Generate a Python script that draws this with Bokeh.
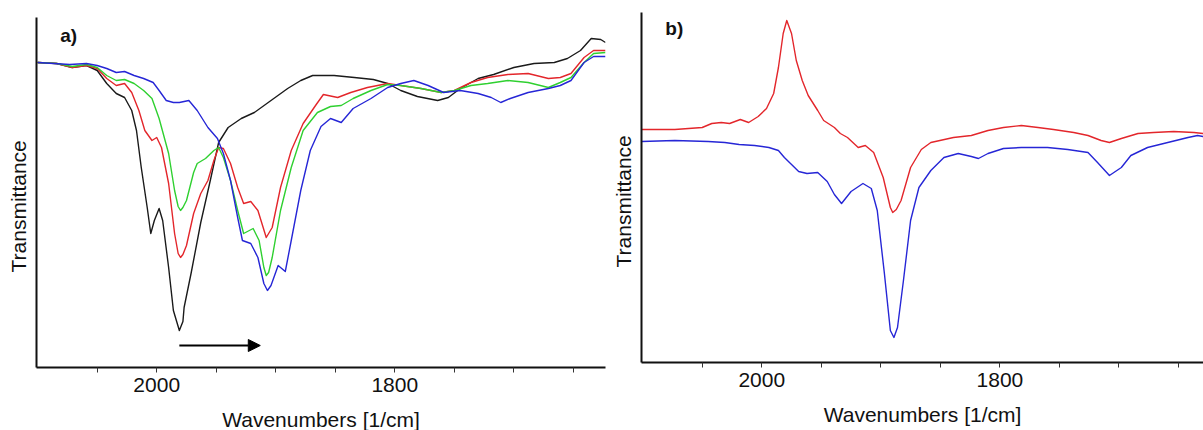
import math
from bokeh.plotting import figure
from bokeh.layouts import row
from bokeh.models import Range1d, FixedTicker, Label, Arrow, NormalHead, Title, LinearAxis
from bokeh.embed import file_html
from bokeh.resources import INLINE

FONT = "Liberation Sans"

# ---- panel a): IR spectra, wavenumber [1/cm] vs transmittance (arb. units)
a_black_wn = [2100, 2084, 2071, 2059, 2050, 2042, 2034, 2027, 2021, 2017, 2013, 2008, 2005, 2002, 1998,
              1995, 1990, 1986, 1983, 1981, 1978, 1977, 1971, 1963, 1955, 1948, 1940, 1929, 1918, 1904,
              1890, 1879, 1869, 1851, 1834, 1818, 1806, 1795, 1781, 1764, 1755, 1745, 1730, 1717, 1700,
              1683, 1666, 1655, 1644, 1635, 1627, 1623]
a_black_t = [305, 304, 300, 302, 297, 284, 274, 270, 257, 237, 200, 160, 134, 147, 159,
             147, 100, 57, 45, 37, 46, 60, 95, 145, 187, 225, 240, 249, 255, 267,
             279, 287, 292, 292, 290, 288, 284, 277, 271, 267, 270, 279, 289, 293, 300,
             304, 305, 309, 317, 329, 328, 325]

a_red_wn = [2100, 2084, 2071, 2059, 2050, 2042, 2034, 2027, 2021, 2015, 2010, 2004, 2000, 1996, 1990,
            1985, 1982, 1980, 1978, 1975, 1969, 1963, 1957, 1952, 1948, 1944, 1938, 1932, 1927, 1921,
            1915, 1908, 1903, 1896, 1887, 1877, 1866, 1860, 1848, 1837, 1823, 1806, 1795, 1778, 1761,
            1750, 1736, 1722, 1705, 1688, 1671, 1661, 1652, 1641, 1633, 1623]
a_red_t = [305, 304, 300, 302, 299, 289, 282, 284, 275, 257, 237, 227, 230, 220, 184,
           134, 114, 110, 113, 122, 154, 174, 187, 207, 220, 219, 204, 180, 164, 166,
           157, 130, 140, 180, 217, 244, 263, 273, 270, 275, 280, 284, 282, 279, 275,
           277, 285, 290, 293, 294, 289, 290, 294, 310, 317, 317]

a_green_wn = [2100, 2084, 2071, 2059, 2050, 2042, 2034, 2027, 2019, 2011, 2004, 1998, 1990, 1985, 1982,
              1980, 1978, 1975, 1969, 1966, 1959, 1952, 1948, 1944, 1938, 1932, 1927, 1919, 1914, 1910,
              1908, 1906, 1903, 1896, 1887, 1877, 1865, 1854, 1845, 1835, 1820, 1806, 1795, 1778, 1761,
              1750, 1736, 1722, 1705, 1688, 1671, 1661, 1652, 1641, 1633, 1623]
a_green_t = [305, 304, 301, 303, 300, 292, 287, 288, 284, 277, 269, 249, 214, 177, 161,
             157, 160, 167, 195, 204, 209, 217, 220, 210, 187, 157, 134, 139, 127, 100,
             92, 95, 110, 157, 200, 237, 255, 261, 262, 269, 277, 283, 282, 279, 275,
             277, 282, 284, 287, 285, 280, 285, 290, 305, 314, 315]

a_blue_wn = [2100, 2073, 2059, 2050, 2042, 2034, 2027, 2019, 2011, 2003, 1998, 1992, 1986, 1981, 1973,
             1966, 1957, 1949, 1944, 1938, 1932, 1928, 1921, 1915, 1910, 1907, 1904, 1898, 1892, 1887,
             1879, 1871, 1862, 1854, 1845, 1835, 1820, 1806, 1795, 1784, 1772, 1759, 1745, 1730, 1719,
             1711, 1703, 1688, 1671, 1661, 1652, 1641, 1633, 1623]
a_blue_t = [305, 303, 304, 302, 299, 295, 296, 292, 289, 285, 277, 267, 265, 265, 267,
            257, 240, 229, 214, 187, 150, 127, 124, 110, 84, 77, 82, 102, 96, 127,
            177, 217, 241, 249, 245, 259, 269, 280, 284, 287, 282, 275, 277, 274, 270,
            265, 269, 275, 279, 282, 287, 305, 311, 311]

# ---- panel b)
b_red_wn = [2101, 2073, 2050, 2042, 2034, 2027, 2018, 2011, 2003, 1996, 1990, 1986, 1982, 1979, 1975,
            1971, 1966, 1961, 1953, 1948, 1939, 1934, 1928, 1919, 1913, 1906, 1898, 1892, 1890, 1887,
            1883, 1875, 1866, 1858, 1839, 1824, 1810, 1797, 1782, 1768, 1755, 1738, 1726, 1715, 1708,
            1698, 1684, 1671, 1654, 1637, 1629]
b_red_t = [233, 233, 235, 239, 240, 239, 243, 240, 246, 254, 269, 295, 329, 342, 329,
           302, 282, 267, 252, 242, 235, 229, 225, 215, 217, 210, 185, 155, 150, 153,
           162, 195, 213, 220, 225, 227, 232, 235, 237, 235, 233, 230, 227, 222, 220,
           224, 229, 230, 231, 230, 229]

b_blue_wn = [2101, 2073, 2045, 2031, 2019, 2006, 1994, 1986, 1981, 1975, 1969, 1962, 1953, 1945, 1939,
             1933, 1925, 1915, 1908, 1903, 1897, 1892, 1889, 1886, 1881, 1875, 1868, 1858, 1847, 1835,
             1824, 1818, 1810, 1797, 1782, 1760, 1743, 1726, 1718, 1708, 1698, 1690, 1676, 1659, 1642,
             1634, 1629]
b_blue_t = [221, 222, 221, 220, 218, 217, 215, 212, 205, 198, 191, 189, 190, 181, 168,
            159, 171, 179, 174, 152, 89, 32, 25, 35, 82, 142, 175, 192, 205, 209,
            206, 204, 209, 214, 215, 215, 213, 210, 200, 187, 195, 207, 215, 220, 225,
            227, 226]

tick_values = [2050, 2000, 1950, 1900, 1850, 1800, 1750, 1700, 1650]
tick_labels = {2000: "2000", 1800: "1800"}

BLACK = "#1a1a1a"
RED = "#e3262b"
GREEN = "#2fd030"
BLUE = "#2626d6"


def make_panel(width, x_end, left, right, top, bottom, tag, tag_y, xlab_offset, ylab_offset):
    p = figure(width=width, height=430, output_backend="svg", toolbar_location=None,
               x_range=Range1d(2101, x_end), y_range=Range1d(0, 350),
               min_border_left=left, min_border_right=right,
               min_border_top=top, min_border_bottom=bottom, frame_align=False)
    p.outline_line_color = None
    p.grid.visible = False
    p.background_fill_color = "white"
    p.border_fill_color = "white"

    xa = p.xaxis[0]
    xa.ticker = FixedTicker(ticks=tick_values)
    xa.major_label_overrides = {t: tick_labels.get(t, "") for t in tick_values}
    xa.minor_tick_line_color = None
    xa.major_tick_in = 0
    xa.major_tick_out = 5
    xa.major_tick_line_width = 1
    xa.major_tick_line_color = "#333333"
    xa.axis_line_width = 2
    xa.axis_line_color = "#111111"
    xa.major_label_standoff = 5
    xa.major_label_text_font = FONT
    xa.major_label_text_font_size = "21px"
    xa.major_label_text_color = "#111111"

    # y axis: plain black line; its single white tick, kept clear of the line,
    # only widens the gap to the title
    ya = p.yaxis[0]
    ya.ticker = FixedTicker(ticks=[175])
    ya.major_label_overrides = {175: ""}
    ya.major_label_text_font_size = "0px"
    ya.major_label_standoff = 0
    ya.minor_tick_line_color = None
    ya.minor_tick_out = 0
    ya.major_tick_in = -4
    ya.major_tick_out = 7
    ya.major_tick_line_color = "white"
    ya.axis_line_width = 2
    ya.axis_line_color = "#111111"

    # blank strip between the tick labels and the axis title
    gap = LinearAxis(ticker=FixedTicker(ticks=[2090]), major_label_overrides={2090: ""},
                     axis_line_color=None, major_tick_line_color="white",
                     minor_tick_line_color=None, major_tick_in=0, major_tick_out=11,
                     minor_tick_out=0, major_label_text_font_size="0px", major_label_standoff=0)
    p.add_layout(gap, "below")

    p.add_layout(Title(text="Transmittance", align="left", offset=ylab_offset, standoff=0,
                       text_font=FONT, text_font_size="21px", text_font_style="normal",
                       text_color="#111111"), "left")
    p.add_layout(Title(text="Wavenumbers [1/cm]", align="center", offset=xlab_offset, standoff=0,
                       text_font=FONT, text_font_size="21px", text_font_style="normal",
                       text_color="#111111"), "below")
    p.add_layout(Label(x=2081, y=tag_y, text=tag, text_align="left", text_baseline="top",
                       text_font=FONT, text_font_size="19px", text_font_style="bold",
                       text_color="#111111"))
    return p


pa = make_panel(608, 1623, 36, 3, 17, 63, "a)", 343, -68, 95)
for wn, t, c in [(a_black_wn, a_black_t, BLACK), (a_red_wn, a_red_t, RED),
                 (a_green_wn, a_green_t, GREEN), (a_blue_wn, a_blue_t, BLUE)]:
    pa.line(wn, t, line_color=c, line_width=1.4, line_join="round")
pa.add_layout(Arrow(end=NormalHead(size=12, fill_color="black", line_color="black"),
                    x_start=1981, y_start=22, x_end=1913, y_end=22,
                    line_width=2, line_color="black"))

pb = make_panel(595, 1629, 33, 0, 12, 68, "b)", 345, -65, 95)
for wn, t, c in [(b_red_wn, b_red_t, RED), (b_blue_wn, b_blue_t, BLUE)]:
    pb.line(wn, t, line_color=c, line_width=1.4, line_join="round")

layout = row(pa, pb)
open("out.html", "w").write(file_html(layout, INLINE))
